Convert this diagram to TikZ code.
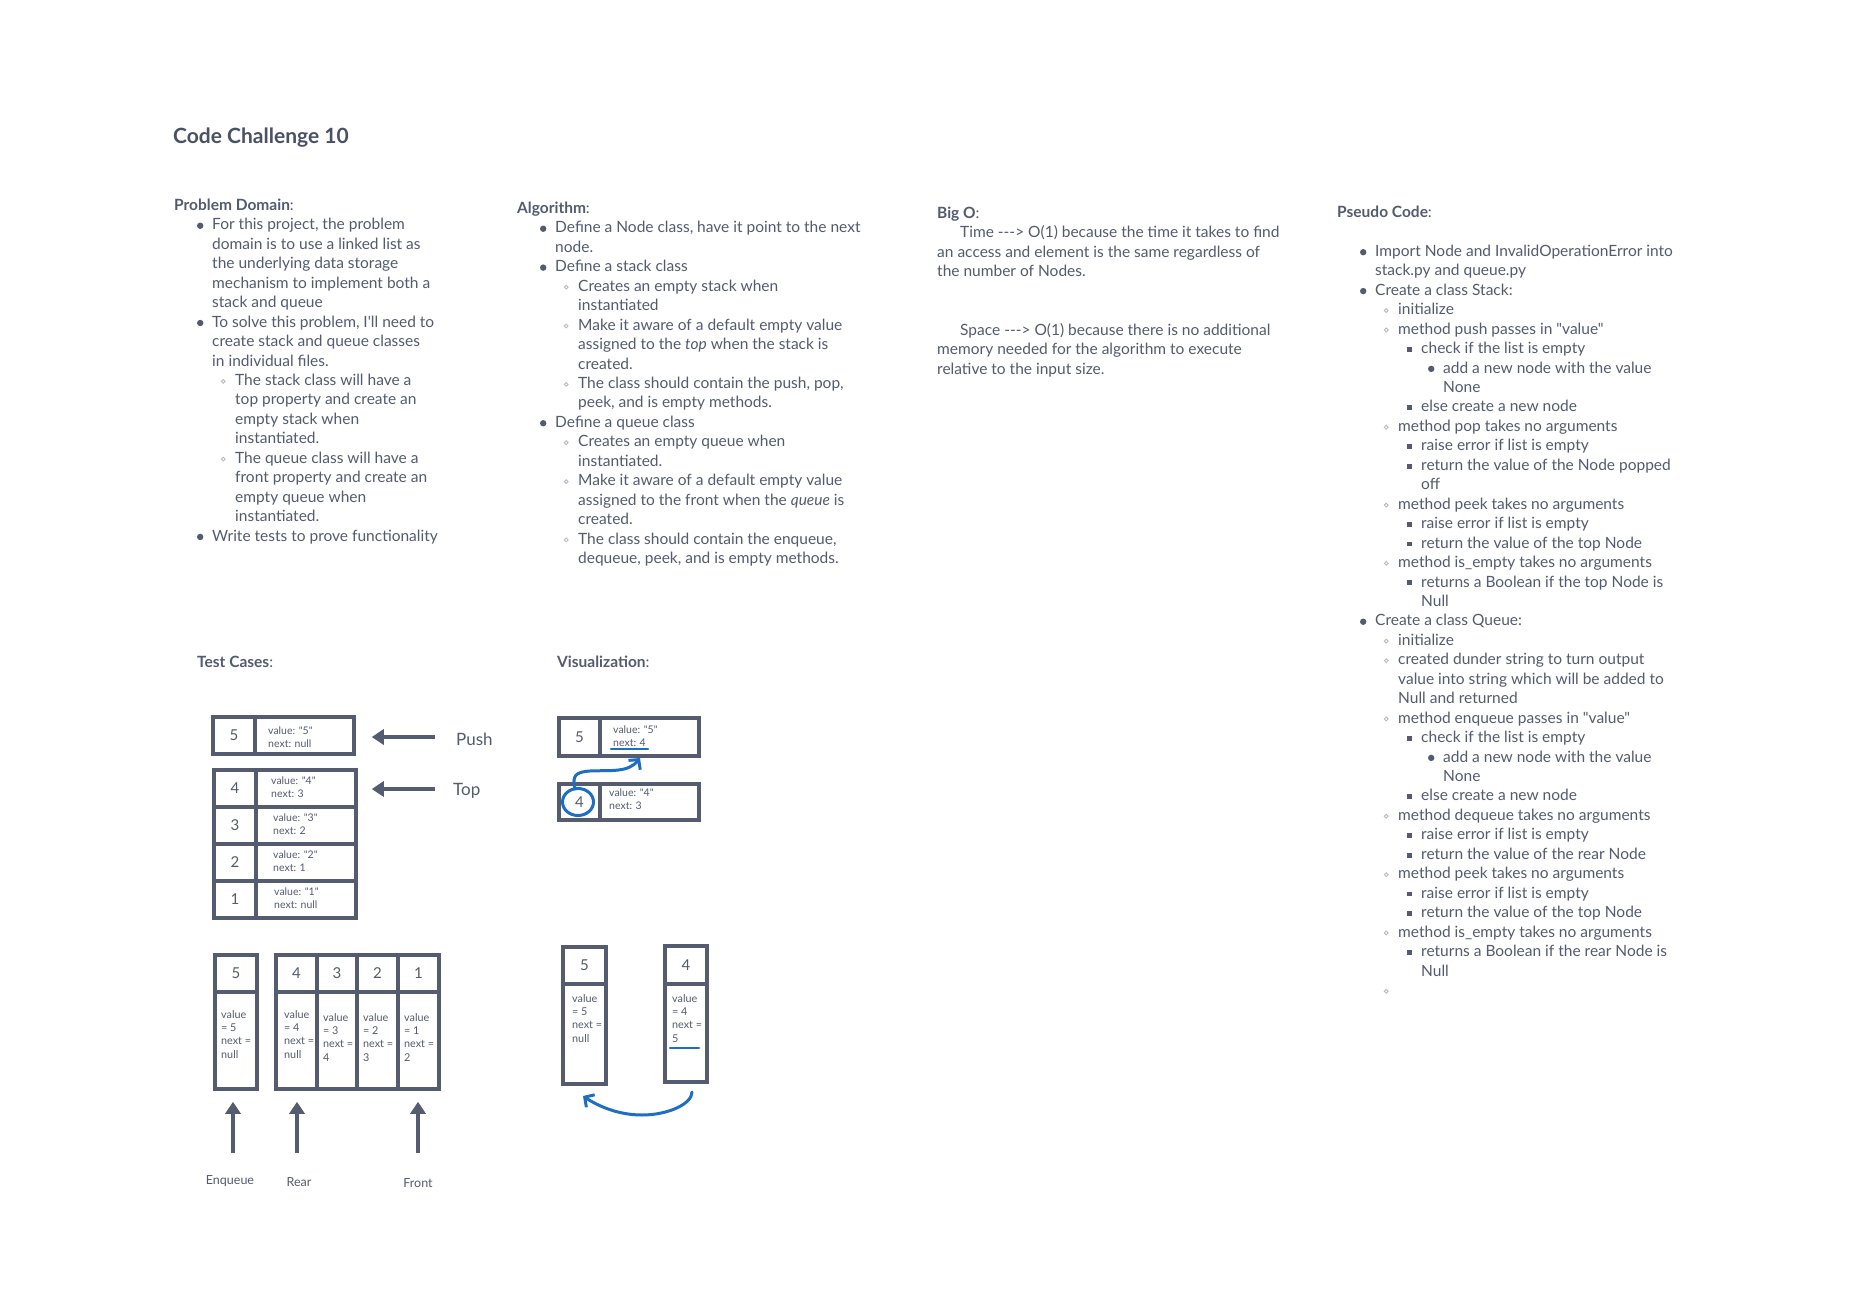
\documentclass[tikz,border=0pt]{standalone}
\usepackage{fontspec}
\newfontfamily\bodyfont{Lato}
\usetikzlibrary{arrows.meta}
\definecolor{txt}{HTML}{545B6F}
\definecolor{ttl}{HTML}{4A5165}
\definecolor{ink}{HTML}{555C70}
\definecolor{pen}{HTML}{1E6FC4}
\definecolor{light}{HTML}{B6BAC4}
\newcommand\mA{\tikz[baseline=-4.2pt]\fill[txt] (0,0) circle[radius=3.2pt];}
\newcommand\mB{\tikz[baseline=-4.2pt]\draw[light,line width=0.9pt] (0,0) circle[radius=1.9pt];}
\newcommand\mC{\tikz[baseline=-4.2pt]\fill[txt] (-2.4pt,-2.4pt) rectangle (2.4pt,2.4pt);}
\newcommand\pline[3]{\noindent\hspace*{#1pt}\llap{\makebox[24pt]{#2}}#3\par}
\newcommand\mlines[1]{\begin{tabular}[t]{@{}l@{}}#1\end{tabular}}
\tikzset{
  blk/.style={anchor=base west, inner sep=0pt, text=txt, font=\bodyfont\fontsize{15.5}{19.45}\selectfont},
  ttlstyle/.style={anchor=base west, inner sep=0pt, text=ttl, font=\bodyfont\bfseries\fontsize{21}{25}\selectfont},
  cell/.style={draw=ink, line width=3.5pt, inner sep=0pt, text=txt, font=\bodyfont\fontsize{15}{18}\selectfont},
  small/.style={anchor=base west, inner sep=0pt, text=txt, font=\bodyfont\fontsize{10.5}{12.8}\selectfont},
  qsmall/.style={anchor=base west, inner sep=0pt, text=txt, font=\bodyfont\fontsize{10.8}{13.2}\selectfont},
  lbl/.style={inner sep=0pt, text=txt, font=\bodyfont\fontsize{17}{20}\selectfont},
  slbl/.style={inner sep=0pt, text=txt, font=\bodyfont\fontsize{12.5}{15}\selectfont},
  bigarrow/.style={draw=ink, line width=3.5pt, -{Triangle[length=12pt,width=15pt]}},
  bluepen/.style={draw=pen, line width=3pt, line cap=round},
  bluearrow/.style={bluepen, -{Straight Barb[length=7pt,width=15pt]}},
}
\begin{document}
\begin{tikzpicture}[x=1pt,y=-1pt]
\useasboundingbox[fill=white] (0,0) rectangle (1856,1311);

% title
\node[ttlstyle] (title) at (173,144) {Code Challenge 10};

% Problem Domain
\node[blk] (pd) at (174,210.5) {\parbox[t]{420pt}{\fontsize{15.5}{19.45}\selectfont
\pline{0}{}{\textbf{Problem Domain}:}
\pline{38}{\mA}{For this project, the problem}
\pline{38}{}{domain is to use a linked list as}
\pline{38}{}{the underlying data storage}
\pline{38}{}{mechanism to implement both a}
\pline{38}{}{stack and queue}
\pline{38}{\mA}{To solve this problem, I'll need to}
\pline{38}{}{create stack and queue classes}
\pline{38}{}{in individual files.}
\pline{61}{\mB}{The stack class will have a}
\pline{61}{}{top property and create an}
\pline{61}{}{empty stack when}
\pline{61}{}{instantiated.}
\pline{61}{\mB}{The queue class will have a}
\pline{61}{}{front property and create an}
\pline{61}{}{empty queue when}
\pline{61}{}{instantiated.}
\pline{38}{\mA}{Write tests to prove functionality}
}};

% Algorithm
\node[blk] (alg) at (517,213.5) {\parbox[t]{420pt}{\fontsize{15.5}{19.45}\selectfont
\pline{0}{}{\textbf{Algorithm}:}
\pline{38}{\mA}{Define a Node class, have it point to the next}
\pline{38}{}{node.}
\pline{38}{\mA}{Define a stack class}
\pline{61}{\mB}{Creates an empty stack when}
\pline{61}{}{instantiated}
\pline{61}{\mB}{Make it aware of a default empty value}
\pline{61}{}{assigned to the \textit{top} when the stack is}
\pline{61}{}{created.}
\pline{61}{\mB}{The class should contain the push, pop,}
\pline{61}{}{peek, and is empty methods.}
\pline{38}{\mA}{Define a queue class}
\pline{61}{\mB}{Creates an empty queue when}
\pline{61}{}{instantiated.}
\pline{61}{\mB}{Make it aware of a default empty value}
\pline{61}{}{assigned to the front when the \textit{queue} is}
\pline{61}{}{created.}
\pline{61}{\mB}{The class should contain the enqueue,}
\pline{61}{}{dequeue, peek, and is empty methods.}
}};

% Big O
\node[blk] (bigo) at (937,218.5) {\parbox[t]{420pt}{\fontsize{15.5}{19.45}\selectfont
\pline{0}{}{\textbf{Big O}:}
\pline{23}{}{Time --->\ O(1) because the time it takes to find}
\pline{0}{}{an access and element is the same regardless of}
\pline{0}{}{the number of Nodes.}
\pline{0}{}{\mbox{}}
\pline{0}{}{\mbox{}}
\pline{23}{}{Space --->\ O(1) because there is no additional}
\pline{0}{}{memory needed for the algorithm to execute}
\pline{0}{}{relative to the input size.}
}};

% Pseudo Code
\node[blk] (pseudo) at (1337,217.5) {\parbox[t]{460pt}{\fontsize{15.5}{19.45}\selectfont
\pline{0}{}{\textbf{Pseudo Code}:}
\pline{0}{}{\mbox{}}
\pline{38}{\mA}{Import Node and InvalidOperationError into}
\pline{38}{}{stack.py and queue.py}
\pline{38}{\mA}{Create a class Stack:}
\pline{61}{\mB}{initialize}
\pline{61}{\mB}{method push passes in "value"}
\pline{84}{\mC}{check if the list is empty}
\pline{106}{\mA}{add a new node with the value}
\pline{106}{}{None}
\pline{84}{\mC}{else create a new node}
\pline{61}{\mB}{method pop takes no arguments}
\pline{84}{\mC}{raise error if list is empty}
\pline{84}{\mC}{return the value of the Node popped}
\pline{84}{}{off}
\pline{61}{\mB}{method peek takes no arguments}
\pline{84}{\mC}{raise error if list is empty}
\pline{84}{\mC}{return the value of the top Node}
\pline{61}{\mB}{method is\_empty takes no arguments}
\pline{84}{\mC}{returns a Boolean if the top Node is}
\pline{84}{}{Null}
\pline{38}{\mA}{Create a class Queue:}
\pline{61}{\mB}{initialize}
\pline{61}{\mB}{created dunder string to turn output}
\pline{61}{}{value into string which will be added to}
\pline{61}{}{Null and returned}
\pline{61}{\mB}{method enqueue passes in "value"}
\pline{84}{\mC}{check if the list is empty}
\pline{106}{\mA}{add a new node with the value}
\pline{106}{}{None}
\pline{84}{\mC}{else create a new node}
\pline{61}{\mB}{method dequeue takes no arguments}
\pline{84}{\mC}{raise error if list is empty}
\pline{84}{\mC}{return the value of the rear Node}
\pline{61}{\mB}{method peek takes no arguments}
\pline{84}{\mC}{raise error if list is empty}
\pline{84}{\mC}{return the value of the top Node}
\pline{61}{\mB}{method is\_empty takes no arguments}
\pline{84}{\mC}{returns a Boolean if the rear Node is}
\pline{84}{}{Null}
\pline{61}{\mB}{\mbox{}}
}};

% ---------- Test cases ----------
\node[blk] (tc) at (197,667.5) {\textbf{Test Cases}:};

% stack
\node[cell, minimum width=42, minimum height=37] (s5n) at (234,735.5) {5};
\node[cell, minimum width=99, minimum height=37] (s5v) at (304.5,735.5) {};
\node[small] (s5t) at (268,734.5) {\mlines{value: "5"\\next: null}};

\node[cell, minimum width=42, minimum height=37] (s4n) at (235,788.5) {4};
\node[cell, minimum width=100, minimum height=37] (s4v) at (306,788.5) {};
\node[small] (s4t) at (271,784.5) {\mlines{value: "4"\\next: 3}};

\node[cell, minimum width=42, minimum height=37] (s3n) at (235,825.5) {3};
\node[cell, minimum width=100, minimum height=37] (s3v) at (306,825.5) {};
\node[small] (s3t) at (273,821.2) {\mlines{value: "3"\\next: 2}};

\node[cell, minimum width=42, minimum height=37] (s2n) at (235,862.5) {2};
\node[cell, minimum width=100, minimum height=37] (s2v) at (306,862.5) {};
\node[small] (s2t) at (273,858.5) {\mlines{value: "2"\\next: 1}};

\node[cell, minimum width=42, minimum height=37] (s1n) at (235,899.5) {1};
\node[cell, minimum width=100, minimum height=37] (s1v) at (306,899.5) {};
\node[small] (s1t) at (274,895.5) {\mlines{value: "1"\\next: null}};

\node[lbl, anchor=west] (push) at (456,739) {Push};
\node[lbl, anchor=west] (top) at (453,791) {Top};
\coordinate (pa) at (435,737);
\coordinate (ta) at (435,789);
\draw[bigarrow, shorten >=16pt] (pa) -- (pa -| s5v.east);
\draw[bigarrow, shorten >=14pt] (ta) -- (ta -| s4v.east);

% queue
\node[cell, minimum width=42, minimum height=37] (q5n) at (236,973.5) {5};
\node[cell, minimum width=42, minimum height=97] (q5v) at (236,1040.5) {};
\node[qsmall] (q5t) at (221,1018.5) {\mlines{value\\= 5\\next =\\null}};

\node[cell, minimum width=41, minimum height=37] (q4n) at (296.5,973.5) {4};
\node[cell, minimum width=41, minimum height=97] (q4v) at (296.5,1040.5) {};
\node[qsmall] (q4t) at (284,1018.5) {\mlines{value\\= 4\\next =\\null}};

\node[cell, minimum width=40, minimum height=37] (q3n) at (337,973.5) {3};
\node[cell, minimum width=40, minimum height=97] (q3v) at (337,1040.5) {};
\node[qsmall] (q3t) at (323,1021.5) {\mlines{value\\= 3\\next =\\4}};

\node[cell, minimum width=41, minimum height=37] (q2n) at (377.5,973.5) {2};
\node[cell, minimum width=41, minimum height=97] (q2v) at (377.5,1040.5) {};
\node[qsmall] (q2t) at (363,1021.5) {\mlines{value\\= 2\\next =\\3}};

\node[cell, minimum width=41, minimum height=37] (q1n) at (418.5,973.5) {1};
\node[cell, minimum width=41, minimum height=97] (q1v) at (418.5,1040.5) {};
\node[qsmall] (q1t) at (404,1021.5) {\mlines{value\\= 1\\next =\\2}};

\node[slbl] (enq) at (230,1181) {Enqueue};
\node[slbl] (rear) at (299,1182) {Rear};
\node[slbl] (front) at (418,1183) {Front};
\coordinate (ea) at (233,1153);
\coordinate (ra) at (297,1153);
\coordinate (fa) at (418,1153);
\draw[bigarrow, shorten >=11pt] (ea) -- (ea |- q5v.south);
\draw[bigarrow, shorten >=11pt] (ra) -- (ra |- q4v.south);
\draw[bigarrow, shorten >=11pt] (fa) -- (fa |- q1v.south);

% ---------- Visualization ----------
\node[blk] (vis) at (557,667.5) {\textbf{Visualization}:};

\node[cell, minimum width=41, minimum height=38] (v5n) at (579.5,737) {5};
\node[cell, minimum width=99, minimum height=38] (v5v) at (649.5,737) {};
\node[small] (v5t) at (613,733.5) {\mlines{value: "5"\\next: 4}};
\draw[bluepen, line width=2.5pt] (611,749) -- (648,749);

\node[cell, minimum width=41, minimum height=36] (v4n) at (579.5,802) {4};
\node[cell, minimum width=99, minimum height=36] (v4v) at (649.5,802) {};
\node[small] (v4t) at (609,796.5) {\mlines{value: "4"\\next: 3}};
\draw[bluepen] (578,802) ellipse[x radius=15.5, y radius=13.5];
\draw[bluearrow] (575,789) .. controls (572,776) and (575,772) .. (590,771) .. controls (610,770) and (628,773) .. (640,758);

\node[cell, minimum width=43, minimum height=37] (c5n) at (584.5,965.5) {5};
\node[cell, minimum width=43, minimum height=100] (c5v) at (584.5,1034) {};
\node[qsmall] (c5t) at (572,1002.5) {\mlines{value\\= 5\\next =\\null}};

\node[cell, minimum width=42, minimum height=38] (c4n) at (686,965) {4};
\node[cell, minimum width=42, minimum height=98] (c4v) at (686,1033) {};
\node[qsmall] (c4t) at (672,1002.5) {\mlines{value\\= 4\\next =\\5}};
\draw[bluepen, line width=2.5pt] (670,1048) -- (699,1048);
\draw[bluearrow] (692,1092) .. controls (692,1104) and (668,1115) .. (642,1115) .. controls (618,1115) and (598,1106) .. (583,1096);
\end{tikzpicture}
\end{document}
